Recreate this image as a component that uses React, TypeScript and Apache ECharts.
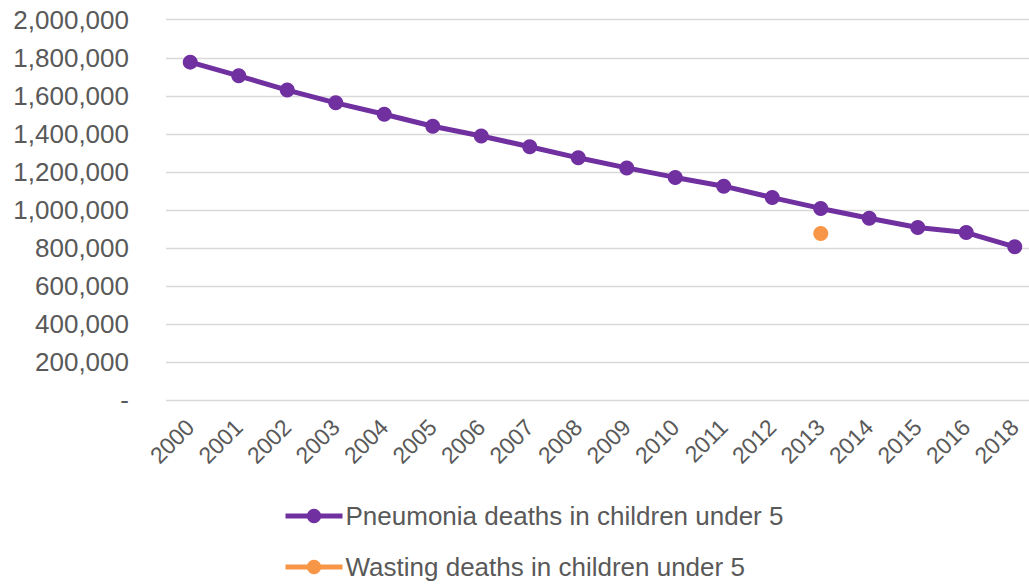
import React, { useEffect, useRef } from "react";
import * as echarts from "echarts";

const years = ["2000","2001","2002","2003","2004","2005","2006","2007","2008","2009","2010","2011","2012","2013","2014","2015","2016","2018"];
const pneumonia = [1777000,1705000,1630000,1563000,1503000,1440000,1389000,1332000,1274000,1221000,1171000,1125000,1065000,1008000,956000,908000,881000,806000];
const wasting = [null,null,null,null,null,null,null,null,null,null,null,null,null,876000,null,null,null,null];
const seriesNames = ["Pneumonia deaths in children under 5", "Wasting deaths in children under 5"];

const FONT = "'Liberation Sans', Arial, sans-serif";
const TXT = "#595959";

export default function App() {
  const ref = useRef<HTMLDivElement>(null);
  useEffect(() => {
    if (!ref.current) return;
    const chart = echarts.init(ref.current, undefined, { renderer: "svg" });
    chart.setOption({
      animation: false,
      textStyle: { fontFamily: FONT },
      grid: { left: 166, top: 19.7, width: 873, height: 380.5, containLabel: false, outerBoundsMode: "none" },
      legend: {
        orient: "vertical",
        left: 283,
        top: 501,
        height: 86,
        padding: 0,
        itemWidth: 57,
        itemHeight: 18,
        itemGap: 21,
        lineStyle: { width: 5 },
        textStyle: { fontFamily: FONT, fontSize: 26, color: TXT, lineHeight: 30, padding: [0, 0, 0, -2] },
        data: seriesNames,
      },
      xAxis: {
        type: "category",
        data: years,
        boundaryGap: true,
        axisLine: { show: false },
        axisTick: { show: false },
        axisLabel: { rotate: 45, fontSize: 23, color: TXT, fontFamily: FONT, margin: 23, interval: 0 },
      },
      yAxis: {
        type: "value",
        min: 0,
        max: 2000000,
        interval: 200000,
        axisLine: { show: false },
        axisTick: { show: false },
        splitLine: { lineStyle: { color: "#D9D9D9", width: 1.3 } },
        axisLabel: {
          fontSize: 26,
          color: TXT,
          fontFamily: FONT,
          margin: 37,
          formatter: (v: number) => (v === 0 ? "-" : v.toLocaleString("en-US")),
        },
      },
      series: [
        {
          name: seriesNames[0],
          type: "line",
          data: pneumonia,
          symbol: "circle",
          symbolSize: 15,
          lineStyle: { color: "#7030A0", width: 5 },
          itemStyle: { color: "#7030A0" },
        },
        {
          name: seriesNames[1],
          type: "line",
          data: wasting,
          symbol: "circle",
          symbolSize: 15,
          lineStyle: { color: "#F79646", width: 5 },
          itemStyle: { color: "#F79646" },
        },
      ],
    });
    return () => chart.dispose();
  }, []);
  return <div ref={ref} style={{ position: "fixed", left: 0, top: 0, width: 1029, height: 587, background: "#fff" }} />;
}
